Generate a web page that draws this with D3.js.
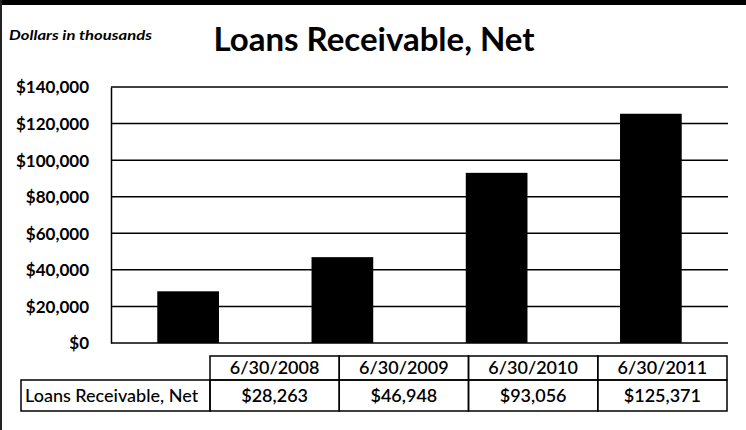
<!DOCTYPE html>
<html>
<head>
<meta charset="utf-8">
<script src="https://cdn.jsdelivr.net/npm/d3@7"></script>
<style>
  body { margin: 0; background: #fff; }
  svg text { font-family: Lato, "Open Sans", sans-serif; fill: #000; }
</style>
</head>
<body>
<svg id="chart"></svg>
<script>
// data
const categories = ["6/30/2008", "6/30/2009", "6/30/2010", "6/30/2011"];
const values = [28263, 46948, 93056, 125371];
const valueLabels = ["$28,263", "$46,948", "$93,056", "$125,371"];
const yTicks = [0, 20000, 40000, 60000, 80000, 100000, 120000, 140000];
const seriesName = "Loans Receivable, Net";

const width = 746;
const height = 430;

const svg = d3.select("#chart")
  .attr("width", width)
  .attr("height", height);

// frame
svg.append("rect").attr("x", 0).attr("y", 0).attr("width", width).attr("height", 5).attr("fill", "#000");
svg.append("line").attr("x1", 1).attr("x2", 1).attr("y1", 0).attr("y2", height)
  .attr("stroke", "#222").attr("stroke-width", 2);

// title
svg.append("text")
  .attr("x", 374)
  .attr("y", 51)
  .attr("text-anchor", "middle")
  .style("font-size", "33px")
  .style("font-weight", "bold")
  .text("Loans Receivable, Net");

svg.append("text")
  .attr("x", 9)
  .attr("y", 40)
  .attr("textLength", 143)
  .attr("lengthAdjust", "spacingAndGlyphs")
  .style("font-size", "13px")
  .style("font-weight", "bold")
  .style("font-style", "italic")
  .text("Dollars in thousands");

// plot area
const plot = { left: 111, right: 728, top: 87, bottom: 343 };

const x = d3.scaleBand()
  .domain(categories)
  .range([plot.left, plot.right])
  .paddingInner(0.6)
  .paddingOuter(0.3);

const y = d3.scaleLinear()
  .domain([0, 140000])
  .range([plot.bottom, plot.top]);

// gridlines
svg.append("g")
  .selectAll("line")
  .data(yTicks)
  .enter()
  .append("line")
  .attr("x1", plot.left)
  .attr("x2", plot.right)
  .attr("y1", (d) => y(d))
  .attr("y2", (d) => y(d))
  .attr("stroke", "#000")
  .attr("stroke-width", 1.5);

// y axis labels
const yAxis = d3.axisLeft(y)
  .tickValues(yTicks)
  .tickSize(0)
  .tickPadding(22)
  .tickFormat((d) => "$" + d3.format(",")(d));

const yG = svg.append("g")
  .attr("transform", `translate(${plot.left},0)`)
  .call(yAxis);
yG.select(".domain").attr("stroke", "#000").attr("stroke-width", 1.5);
yG.selectAll("text")
  .style("font-size", "17px")
  .style("font-weight", "bold")
  .attr("dy", "0.35em");

// bars
svg.append("g")
  .selectAll("rect")
  .data(values)
  .enter()
  .append("rect")
  .attr("x", (d, i) => x(categories[i]))
  .attr("width", x.bandwidth())
  .attr("y", (d) => y(d))
  .attr("height", (d) => y(0) - y(d))
  .attr("fill", "#000");

// data table
const table = { left: 210, right: 727, labelLeft: 21, top: 356, mid: 380, bottom: 411 };
const col = d3.scaleBand()
  .domain(categories)
  .range([table.left, table.right]);

const tg = svg.append("g");
const strokeW = 1.5;

// header row
tg.selectAll("rect.head")
  .data(categories)
  .enter()
  .append("rect")
  .attr("class", "head")
  .attr("x", (d) => col(d))
  .attr("y", table.top)
  .attr("width", col.bandwidth())
  .attr("height", table.mid - table.top)
  .attr("fill", "none")
  .attr("stroke", "#000")
  .attr("stroke-width", strokeW);

tg.selectAll("text.head")
  .data(categories)
  .enter()
  .append("text")
  .attr("class", "head")
  .attr("x", (d) => col(d) + col.bandwidth() / 2)
  .attr("y", (table.top + table.mid) / 2)
  .attr("dy", "0.36em")
  .attr("text-anchor", "middle")
  .style("font-size", "18px")
  .style("font-weight", 600)
  .text((d) => d);

// value row
tg.selectAll("rect.val")
  .data(categories)
  .enter()
  .append("rect")
  .attr("class", "val")
  .attr("x", (d) => col(d))
  .attr("y", table.mid)
  .attr("width", col.bandwidth())
  .attr("height", table.bottom - table.mid)
  .attr("fill", "none")
  .attr("stroke", "#000")
  .attr("stroke-width", strokeW);

tg.selectAll("text.val")
  .data(valueLabels)
  .enter()
  .append("text")
  .attr("class", "val")
  .attr("x", (d, i) => col(categories[i]) + col.bandwidth() / 2)
  .attr("y", (table.mid + table.bottom) / 2)
  .attr("dy", "0.36em")
  .attr("text-anchor", "middle")
  .style("font-size", "18px")
  .style("font-weight", 600)
  .text((d) => d);

// label cell
tg.append("rect")
  .attr("x", table.labelLeft)
  .attr("y", table.mid)
  .attr("width", table.left - table.labelLeft)
  .attr("height", table.bottom - table.mid)
  .attr("fill", "none")
  .attr("stroke", "#000")
  .attr("stroke-width", strokeW);

tg.append("text")
  .attr("x", table.labelLeft + 4)
  .attr("y", (table.mid + table.bottom) / 2)
  .attr("dy", "0.36em")
  .style("font-size", "18px")
  .style("font-weight", 500)
  .text(seriesName);
</script>
</body>
</html>
